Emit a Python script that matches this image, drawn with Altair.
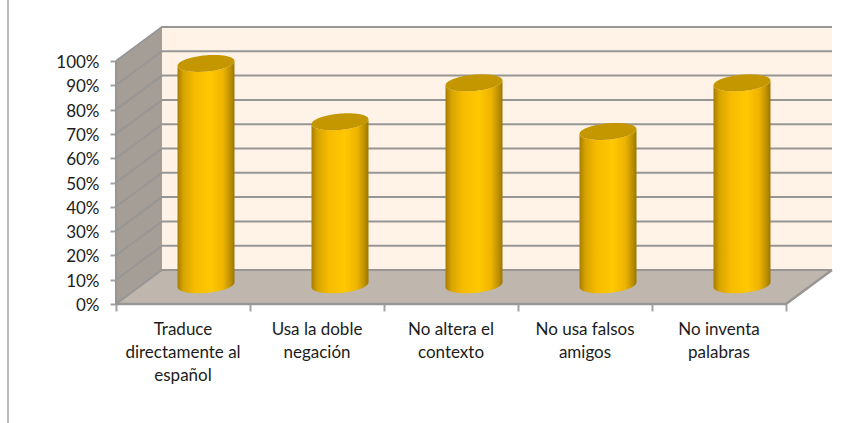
import math
import altair as alt
import pandas as pd

# Survey results, in percent
categories = [
    "Traduce\ndirectamente al\nespañol",
    "Usa la doble\nnegación",
    "No altera el\ncontexto",
    "No usa falsos\namigos",
    "No inventa\npalabras",
]
values = [92, 68, 84, 64, 84]
percent_ticks = list(range(0, 101, 10))
category_edges = [0, 1, 2, 3, 4, 5]

# Oblique projection of the chart box: one unit of depth moves a point
# right (in category units) and up (in percent units).
DEPTH_X = 46 / 134
DEPTH_Y = 14.0
N = len(categories)

# Cylinder footprint: half-width, sideways shear of the end caps and
# cap height, with a small clearance above the floor
RADIUS_X = 0.204
CAP_SHEAR = 0.06
RADIUS_DEPTH = 0.25
CLEARANCE = 0.9

x_scale = alt.Scale(domain=[0, 716 / 134], range=[0, 716], nice=False, zero=False)
y_scale = alt.Scale(domain=[0, 277 / 2.43], range=[277, 0], nice=False, zero=False)

GRID = "#989694"
LABEL_FONT = "Lato"
FONT_SIZE = 17

y_axis = alt.Axis(
    values=percent_ticks,
    labelExpr="datum.value + '%'",
    domain=False,
    grid=False,
    title=None,
    ticks=True,
    tickSize=6,
    tickWidth=2,
    tickColor="#a3a3a3",
    labelFont=LABEL_FONT,
    labelFontSize=FONT_SIZE,
    labelColor="#1c1c1c",
    labelPadding=11,
    labelOffset=1.5,
)
x_axis = alt.Axis(
    values=category_edges,
    labels=False,
    domain=False,
    grid=False,
    title=None,
    ticks=True,
    tickSize=7,
    tickWidth=2,
    tickColor="#a3a3a3",
)


def px(name):
    return alt.X(f"{name}:Q", scale=x_scale, axis=x_axis)


def py(name):
    return alt.Y(f"{name}:Q", scale=y_scale, axis=y_axis, stack=None)


def py2(name):
    return alt.Y2(f"{name}:Q")


# Chart box surfaces
side_wall = pd.DataFrame(
    {"x": [0, DEPTH_X], "y": [0, DEPTH_Y], "y2": [100, 100 + DEPTH_Y]}
)
back_wall = pd.DataFrame(
    {"x": [DEPTH_X, N + DEPTH_X], "y": [DEPTH_Y, DEPTH_Y], "y2": [100 + DEPTH_Y] * 2}
)
floor = pd.DataFrame(
    {
        "x": [0, DEPTH_X, N, N + DEPTH_X],
        "y": [0, 0, 0, DEPTH_Y],
        "y2": [0, DEPTH_Y, DEPTH_Y, DEPTH_Y],
    }
)

# Gridlines run up the side wall, then across the back wall
grid_rows = []
for v in percent_ticks:
    grid_rows += [
        {"level": v, "x": 0, "y": v},
        {"level": v, "x": DEPTH_X, "y": v + DEPTH_Y},
        {"level": v, "x": N + DEPTH_X, "y": v + DEPTH_Y},
    ]
grid = pd.DataFrame(grid_rows)

# Front and right edges of the floor
floor_edge = pd.DataFrame(
    {"x": [0, N, N + DEPTH_X], "y": [0, 0, DEPTH_Y]}
)
front_post = pd.DataFrame({"x": [0], "y": [0], "y2": [100]})
axis_holder = pd.DataFrame({"x": [0, N], "y": [0, 100]})

# Cylinders: a sheared circle gives the tilted ellipse at each end
reach = math.hypot(RADIUS_X, CAP_SHEAR)
phi = math.atan2(CAP_SHEAR, RADIUS_X)
lift = RADIUS_DEPTH * DEPTH_Y
body_rows, top_rows = [], []
for b, v in enumerate(values):
    cx = b + 0.5 + 0.5 * DEPTH_X
    cy = 0.5 * DEPTH_Y
    for k in range(61):
        u = math.pi * (60 - k) / 60
        x = cx + reach * math.cos(u)
        front = lift * math.sin(phi - u)
        back = lift * math.sin(phi + u)
        body_rows.append(
            {"bar": b, "x": x, "y": cy + CLEARANCE + front, "y2": cy + v + front}
        )
        top_rows.append({"bar": b, "x": x, "y": cy + v + front, "y2": cy + v + back})
bodies = pd.DataFrame(body_rows)
tops = pd.DataFrame(top_rows)

labels = pd.DataFrame(
    {"x": [i + 0.5 for i in range(N)], "y": [0] * N, "label": categories}
)

metal = alt.Gradient(
    gradient="linear",
    x1=0,
    x2=1,
    y1=0,
    y2=0,
    stops=[
        alt.GradientStop(color="#a67c00", offset=0),
        alt.GradientStop(color="#d6a300", offset=0.1),
        alt.GradientStop(color="#f6bb00", offset=0.3),
        alt.GradientStop(color="#ffc800", offset=0.58),
        alt.GradientStop(color="#eeb400", offset=0.8),
        alt.GradientStop(color="#bd9000", offset=0.93),
        alt.GradientStop(color="#987600", offset=1),
    ],
)

axes = (
    alt.Chart(axis_holder)
    .mark_point(opacity=0)
    .encode(x=px("x"), y=py("y"))
)


def surface(data, color):
    return (
        alt.Chart(data)
        .mark_area(color=color, orient="vertical", interpolate="linear")
        .encode(x=px("x"), y=py("y"), y2=py2("y2"))
    )


grid_lines = (
    alt.Chart(grid)
    .mark_line(color=GRID, strokeWidth=2)
    .encode(x=px("x"), y=py("y"), detail="level:N")
)
edge_line = (
    alt.Chart(floor_edge)
    .mark_line(color=GRID, strokeWidth=2.5)
    .encode(x=px("x"), y=py("y"))
)
post = (
    alt.Chart(front_post)
    .mark_rule(color=GRID, strokeWidth=2)
    .encode(x=px("x"), y=py("y"), y2=py2("y2"))
)
body_marks = (
    alt.Chart(bodies)
    .mark_area(color=metal, orient="vertical")
    .encode(x=px("x"), y=py("y"), y2=py2("y2"), detail="bar:N")
)
top_marks = (
    alt.Chart(tops)
    .mark_area(color="#c49700", orient="vertical")
    .encode(x=px("x"), y=py("y"), y2=py2("y2"), detail="bar:N")
)
category_text = (
    alt.Chart(labels)
    .mark_text(
        font=LABEL_FONT,
        fontSize=FONT_SIZE,
        color="#1c1c1c",
        baseline="top",
        align="center",
        lineBreak="\n",
        lineHeight=23.3,
        dy=17.5,
    )
    .encode(x=px("x"), y=py("y"), text="label:N")
)
frame_edge = (
    alt.Chart(axis_holder.head(1))
    .mark_rule(color="#a6a6a6", strokeWidth=1.5)
    .encode(x=alt.value(-108), y=alt.value(-27), y2=alt.value(396))
)

chart = (
    alt.layer(
        axes,
        surface(side_wall, "#a59e96"),
        surface(back_wall, "#fef3e6"),
        surface(floor, "#bfb7ae"),
        grid_lines,
        edge_line,
        post,
        body_marks,
        top_marks,
        category_text,
        frame_edge,
    )
    .properties(
        width=716,
        height=277,
        padding={"left": 116, "top": 27, "right": 29, "bottom": 119},
        autosize=alt.AutoSizeParams(type="none"),
        background="white",
    )
    .configure_view(stroke=None)
)

chart.save("out.html", embed_options={"renderer": "svg", "actions": False})
